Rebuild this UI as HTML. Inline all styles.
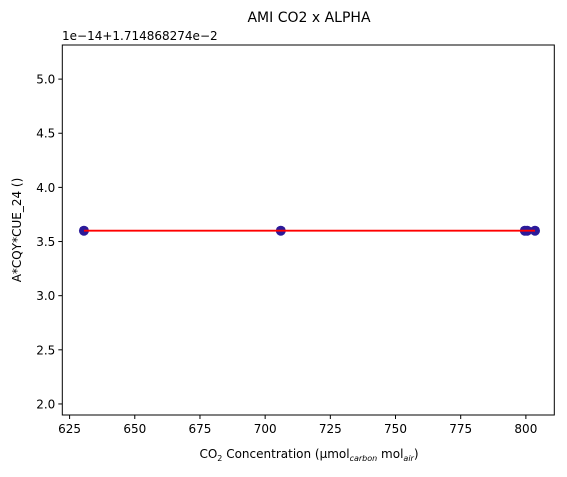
<!DOCTYPE html>
<html><head><meta charset="utf-8"><style>
body{margin:0;background:#fff;font-family:"Liberation Sans","DejaVu Sans",sans-serif;}
svg text{font-family:"DejaVu Sans","Liberation Sans",sans-serif;fill:#000;}
</style></head><body>
<svg id="chart" width="567" height="472">
<text x="309" y="22" font-size="14" text-anchor="middle">AMI CO2 x ALPHA</text>
<text x="62" y="40" font-size="12">1e−14+1.714868274e−2</text>
<g id="plot"></g>
<rect x="62.3" y="45" width="492" height="370" fill="none" stroke="#000" stroke-width="1"/>
<text x="309" y="458" font-size="12" text-anchor="middle">CO<tspan font-size="8" dy="3">2</tspan><tspan dy="-3"> Concentration (µmol</tspan><tspan font-size="8" dy="3" font-style="italic">carbon</tspan><tspan dy="-3"> mol</tspan><tspan font-size="8" dy="3" font-style="italic">air</tspan><tspan dy="-3">)</tspan></text>
<text transform="translate(21,230) rotate(-90)" font-size="12" text-anchor="middle">A*CQY*CUE_24 ()</text>
</svg>
<script>
const xVals=[630.5,706,799.6,800.5,803.5];
const yVals=[3.6,3.6,3.6,3.6,3.6];
const fitX=[630.5,803.5];
const fitY=[3.6,3.6];
const xTicks=[625,650,675,700,725,750,775,800];
const yTicks=[2.0,2.5,3.0,3.5,4.0,4.5,5.0];
const L=62.3,R=554.3,T=45,B=415;
const xmin=622.2,xmax=810.9,ymin=1.898,ymax=5.315;
const xs=v=>L+(v-xmin)/(xmax-xmin)*(R-L);
const ys=v=>B-(v-ymin)/(ymax-ymin)*(B-T);
const NS="http://www.w3.org/2000/svg";
const g=document.getElementById('plot');
function mk(t,a){const e=document.createElementNS(NS,t);for(const k in a)e.setAttribute(k,a[k]);g.appendChild(e);return e;}
xTicks.forEach(v=>{
 const l=mk('line',{x1:xs(v),x2:xs(v),y1:B,y2:B+4,stroke:'#000'});
 
 
 const t=mk('text',{x:xs(v),y:B+18,'font-size':12,'text-anchor':'middle'});t.textContent=v;
 
 
});
yTicks.forEach(v=>{
 const l=mk('line',{x1:L-4,x2:L,y1:ys(v),y2:ys(v),stroke:'#000'});
 
 
 const t=mk('text',{x:L-7,y:ys(v)+4.5,'font-size':12,'text-anchor':'end'});t.textContent=v.toFixed(1);
 
 
});
xVals.forEach((v,i)=>{
 const c=mk('circle',{cx:xs(v),cy:ys(yVals[i]),r:5,fill:'#2b1a9a'});
 
 
});
const fl=mk('line',{x1:xs(fitX[0]),x2:xs(fitX[1]),y1:ys(fitY[0]),y2:ys(fitY[1]),stroke:'#ff0000','stroke-width':1.8});


</script>
</body></html>
